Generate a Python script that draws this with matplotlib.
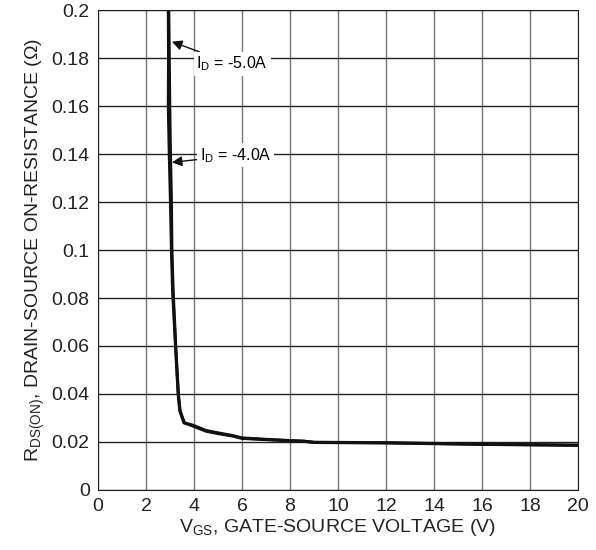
import matplotlib
matplotlib.use('Agg')
from matplotlib import pyplot as plt

plt.rcParams['font.family'] = ['Liberation Sans', 'DejaVu Sans']
plt.rcParams['mathtext.fontset'] = 'custom'
plt.rcParams['mathtext.rm'] = 'Liberation Sans'
plt.rcParams['mathtext.it'] = 'Liberation Sans'

# I_D = -5.0A
vgs_5a = [2.95, 2.97, 2.99, 3.02, 3.06, 3.08, 3.13, 3.25, 3.35, 3.42, 3.6, 4.0,
          4.5, 5.0, 5.6, 6.0, 7.0, 8.0, 8.6, 9.0, 12.0, 16.0, 20.0]
rds_5a = [0.2, 0.18, 0.16, 0.14, 0.12, 0.1, 0.083, 0.058, 0.04, 0.033, 0.028, 0.0265,
          0.0245, 0.0235, 0.0225, 0.0215, 0.021, 0.0205, 0.0203, 0.0198, 0.0196, 0.019, 0.0186]

# I_D = -4.0A
vgs_4a = [2.93, 2.94, 2.93, 2.97, 3.02, 3.06, 3.11, 3.24, 3.34, 3.41, 3.58, 3.95,
          4.5, 5.0, 5.6, 6.0, 7.0, 8.0, 8.6, 9.0, 12.0, 16.0, 20.0]
rds_4a = [0.2, 0.18, 0.16, 0.14, 0.12, 0.1, 0.083, 0.058, 0.04, 0.033, 0.028, 0.027,
          0.0248, 0.0238, 0.0227, 0.0217, 0.0211, 0.0206, 0.0203, 0.0199, 0.0197, 0.0191, 0.0187]

fig = plt.figure(figsize=(5.96, 5.5), dpi=100)
ax = fig.add_axes([0.1644, 0.1091, 0.8054, 0.8727])

ax.plot(vgs_5a, rds_5a, c='#111111', lw=2.2)
ax.plot(vgs_4a, rds_4a, c='#111111', lw=2.2)

ax.set_xlim(0, 20)
ax.set_ylim(0, 0.2)
ax.set_xticks(range(0, 21, 2))
ax.set_yticks([0, 0.02, 0.04, 0.06, 0.08, 0.1, 0.12, 0.14, 0.16, 0.18, 0.2])
ax.set_yticklabels(['0', '0.02', '0.04', '0.06', '0.08', '0.1', '0.12', '0.14',
                    '0.16', '0.18', '0.2'])
ax.tick_params(length=0, labelsize=14, pad=6, labelcolor='#222222')

ax.grid(axis='y', color='#222222', lw=1)
ax.grid(axis='x', color='#777777', lw=1)
for s in ax.spines.values():
    s.set_color('#222222')

ax.set_xlabel('V$_{GS}$, GATE-SOURCE VOLTAGE (V)', fontsize=14, labelpad=1, color='#222222')
ax.set_ylabel('R$_{DS(ON)}$, DRAIN-SOURCE ON-RESISTANCE ($\\Omega$)', fontsize=14,
              labelpad=3, color='#222222')

box = dict(facecolor='white', edgecolor='none', pad=2)
ax.annotate('I$_D$ = -5.0A', xy=(3.08, 0.1868), xytext=(4.1, 0.1775),
            fontsize=11.5, va='center', ha='left', bbox=box,
            arrowprops=dict(arrowstyle='-|>', color='#111111', lw=1, mutation_scale=15,
                            shrinkA=0, shrinkB=0))
ax.annotate('I$_D$ = -4.0A', xy=(3.08, 0.1365), xytext=(4.25, 0.1395),
            fontsize=11.5, va='center', ha='left', bbox=box,
            arrowprops=dict(arrowstyle='-|>', color='#111111', lw=1, mutation_scale=15,
                            shrinkA=0, shrinkB=0))

plt.savefig('out.png', dpi=100)
